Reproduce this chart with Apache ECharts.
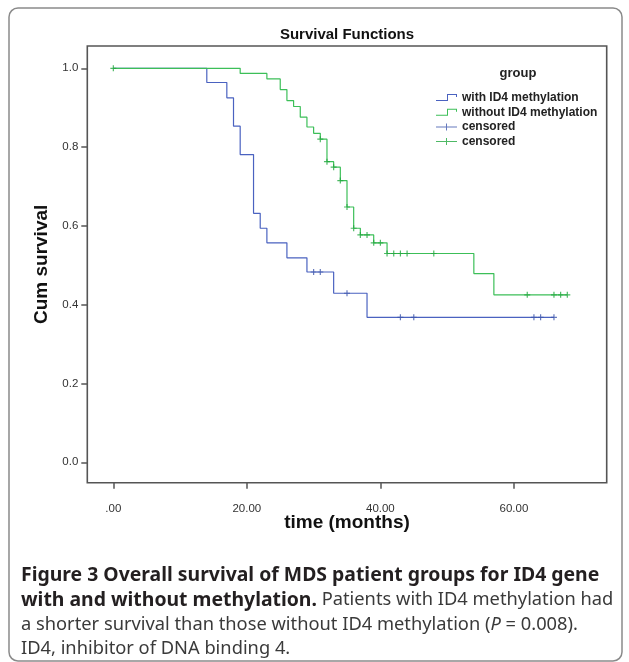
<!DOCTYPE html>
<html><head><meta charset="utf-8">
<script src="https://cdn.jsdelivr.net/npm/echarts@6/dist/echarts.min.js"></script>
<style>html,body{margin:0;padding:0;background:#fff}#c{width:629px;height:662px}</style>
</head><body><div id="c"></div>
<script>
// Kaplan-Meier step data (time in months, cumulative survival after the step)
const withTimes = [0, 14, 17, 18, 19, 21, 22, 23, 26, 29, 33, 38, 66];
const withSurv  = [1.0, 0.964, 0.925, 0.853, 0.781, 0.632, 0.594, 0.557, 0.519, 0.483, 0.429, 0.368, 0.368];
const withoutTimes = [0, 19, 23, 25, 26, 27, 28, 29, 30, 31, 32, 33, 34, 35, 36, 37, 39, 41, 54, 57, 68];
const withoutSurv  = [1.0, 0.987, 0.973, 0.946, 0.918, 0.903, 0.876, 0.851, 0.835, 0.820, 0.763, 0.749, 0.715, 0.648, 0.594, 0.577, 0.557, 0.530, 0.479, 0.425, 0.425];
// censored observations
const withCensTimes = [30, 31, 35, 43, 45, 63, 64, 66];
const withCensSurv  = [0.483, 0.483, 0.429, 0.368, 0.368, 0.368, 0.368, 0.368];
const withoutCensTimes = [0, 31, 32, 33, 34, 35, 36, 37, 38, 39, 40, 41, 42, 43, 44, 48, 62, 66, 67, 68];
const withoutCensSurv  = [1.0, 0.820, 0.763, 0.749, 0.715, 0.648, 0.594, 0.577, 0.577, 0.557, 0.557, 0.530, 0.530, 0.530, 0.530, 0.530, 0.425, 0.425, 0.425, 0.425];
const xTicks = [0, 20, 40, 60];
const yTicks = [0, 0.2, 0.4, 0.6, 0.8, 1.0];
const seriesNames = ['with ID4 methylation', 'without ID4 methylation', 'censored', 'censored '];

const zip = (a, b) => a.map((v, i) => [v, b[i]]);
const BLUE = '#4a62c0', GREEN = '#3cbf58';
const BLUE_D = '#3e58ac', GREEN_D = '#22a83e';
const FONT = '"Liberation Sans", Arial, sans-serif';
const CAP = '"Noto Sans", "Open Sans", sans-serif';
const BOLD_CAP = 'bold 19.4px ' + CAP;
const REG_CAP = '18.3px ' + CAP;
const plusSym = 'path://M2.4,0H3.6V2.4H6V3.6H3.6V6H2.4V3.6H0V2.4H2.4Z';
const stepIcon = 'path://M0,6H11V0H21V3H20V1H12V7H0Z';
const censIcon = 'path://M0,3H10V0H11V3H21V4H11V7H10V4H0Z';

const chart = echarts.init(document.getElementById('c'), null, {renderer: 'canvas'});
chart.setOption({
  animation: false,
  backgroundColor: '#fff',
  grid: {left: 87.3, right: 22.3, top: 46, bottom: 179.3, show: true, borderColor: '#555', borderWidth: 1.6, backgroundColor: 'transparent'},
  xAxis: {
    type: 'value', min: -3.9, max: 73.9,
    name: 'time (months)', nameLocation: 'middle', nameGap: 31, nameMoveOverlap: false,
    nameTextStyle: {fontFamily: FONT, fontWeight: 'bold', fontSize: 19, color: '#111'},
    axisLine: {show: false, onZero: false},
    axisTick: {show: true, length: 6, customValues: xTicks, lineStyle: {color: '#555', width: 1.5}},
    axisLabel: {customValues: xTicks, margin: 20, fontFamily: FONT, fontSize: 11.5, color: '#333',
      formatter: v => v === 0 ? '.00' : v.toFixed(2)},
    splitLine: {show: false}
  },
  yAxis: {
    type: 'value', min: -0.0518, max: 1.0566,
    name: 'Cum survival', nameLocation: 'middle', nameGap: 36, nameMoveOverlap: false,
    nameTextStyle: {fontFamily: FONT, fontWeight: 'bold', fontSize: 19, color: '#111'},
    axisLine: {show: false, onZero: false},
    axisTick: {show: true, length: 6, customValues: yTicks, lineStyle: {color: '#555', width: 1.5}},
    axisLabel: {customValues: yTicks, margin: 9, fontFamily: FONT, fontSize: 11.5, color: '#333',
      formatter: v => v.toFixed(1)},
    splitLine: {show: false}
  },
  legend: {
    orient: 'vertical', left: 436, top: 91.5, padding: 0, itemWidth: 21, itemHeight: 7, itemGap: 2.7,
    textStyle: {fontFamily: FONT, fontWeight: 'bold', fontSize: 12, color: '#222'},
    data: [
      {name: seriesNames[0], icon: stepIcon},
      {name: seriesNames[1], icon: stepIcon},
      {name: seriesNames[2], icon: censIcon},
      {name: seriesNames[3], icon: censIcon}
    ]
  },
  series: [
    {name: seriesNames[0], type: 'line', step: 'end', symbol: 'none', color: BLUE,
      lineStyle: {width: 1.2, color: BLUE}, data: zip(withTimes, withSurv), z: 2},
    {name: seriesNames[1], type: 'line', step: 'end', symbol: 'none', color: GREEN,
      lineStyle: {width: 1.2, color: GREEN}, data: zip(withoutTimes, withoutSurv), z: 3},
    {name: seriesNames[2], type: 'scatter', symbol: plusSym, symbolSize: 6, color: BLUE_D,
      itemStyle: {color: BLUE_D}, data: zip(withCensTimes, withCensSurv), z: 4},
    {name: seriesNames[3], type: 'scatter', symbol: plusSym, symbolSize: 6, color: GREEN_D,
      itemStyle: {color: GREEN_D}, data: zip(withoutCensTimes, withoutCensSurv), z: 5}
  ],
  graphic: [
    {type: 'rect', shape: {x: 9, y: 8, width: 613, height: 653, r: 9}, silent: true,
      style: {fill: 'none', stroke: '#8a8a8a', lineWidth: 1.5}},
    {type: 'text', x: 347, y: 35, silent: true, style: {text: 'Survival Functions', align: 'center', verticalAlign: 'middle',
      font: 'bold 15px ' + FONT, fill: '#111'}},
    {type: 'text', x: 518, y: 73, silent: true, style: {text: 'group', align: 'center', verticalAlign: 'middle',
      font: 'bold 13px ' + FONT, fill: '#222'}},
    {type: 'text', x: 21, y: 575, silent: true, style: {verticalAlign: 'middle',
      text: '{b|Figure 3 Overall survival of MDS patient groups for ID4 gene}',
      rich: {b: {font: BOLD_CAP, fill: '#231f20'}}}},
    {type: 'text', x: 21, y: 600, silent: true, style: {verticalAlign: 'middle',
      text: '{b|with and without methylation.}{r| Patients with ID4 methylation had}',
      rich: {b: {font: BOLD_CAP, fill: '#231f20'}, r: {font: REG_CAP, fill: '#3a3a3a'}}}},
    {type: 'text', x: 21, y: 625, silent: true, style: {verticalAlign: 'middle',
      text: '{r|a shorter survival than those without ID4 methylation (}{i|P}{r| = 0.008).}',
      rich: {r: {font: REG_CAP, fill: '#3a3a3a'}, i: {font: 'italic ' + REG_CAP, fill: '#3a3a3a'}}}},
    {type: 'text', x: 21, y: 649, silent: true, style: {verticalAlign: 'middle',
      text: '{r|ID4, inhibitor of DNA binding 4.}',
      rich: {r: {font: REG_CAP, fill: '#3a3a3a'}}}}
  ]
});
</script></body></html>
